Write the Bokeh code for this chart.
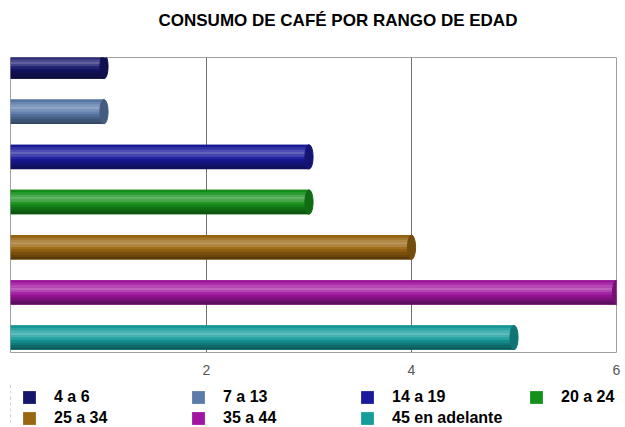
from bokeh.plotting import figure
from bokeh.layouts import column
from bokeh.models import (ColumnDataSource, Range1d, FixedTicker, Legend, LegendItem, Title)
from bokeh.transform import dodge
from bokeh.embed import file_html
from bokeh.resources import INLINE

# ---- data ----
categories = ["4 a 6", "7 a 13", "14 a 19", "20 a 24", "25 a 34", "35 a 44", "45 en adelante"]
values = [1, 1, 3, 3, 4, 6, 5]
tick_values = [2, 4, 6]
title_text = "CONSUMO DE CAFÉ POR RANGO DE EDAD"

# ---- style ----
colors = ["#15156b", "#5b7bab", "#1a1a9c", "#15901a", "#9a6612", "#a016a0", "#179c9c"]


def hex2rgb(h):
    h = h.lstrip("#")
    return tuple(int(h[i:i + 2], 16) for i in (0, 2, 4))


def shade(h, f):
    r, g, b = hex2rgb(h)
    if f >= 0:
        r, g, b = (c + (255 - c) * f for c in (r, g, b))
    else:
        r, g, b = (c * (1 + f) for c in (r, g, b))
    return "#%02x%02x%02x" % tuple(int(round(max(0, min(255, c)))) for c in (r, g, b))


n = len(categories)
ypos = [n - 1 - i for i in range(n)]  # first category on top

BAR_H = 0.54
source = ColumnDataSource(dict(cat=categories, val=values, y=ypos, color=colors,
                               cap=[shade(c, -0.25) for c in colors]))

W = 625
H_MAIN = 380
H_LEG = 47

p = figure(width=W, height=H_MAIN, output_backend="svg", toolbar_location=None,
           x_range=Range1d(0.088, 6.0), y_range=Range1d(-0.33, n - 1 + 0.2),
           min_border_left=10, min_border_right=9, min_border_top=55, min_border_bottom=28)

p.title.text = title_text
p.title.align = "left"
p.title.vertical_align = "top"
p.title.offset = 148
p.title.text_font = "Liberation Sans"
p.title.text_font_style = "bold"
p.title.text_font_size = "17px"
p.title.text_color = "#000000"
p.title.standoff = 20

# empty spacer panel between the title and the plot frame
p.add_layout(Title(text=" ", text_font_size="2px", standoff=12), "above")

p.background_fill_color = "white"
p.border_fill_color = "white"
p.outline_line_color = "#a0a0a0"
p.outline_line_width = 1

# base bar
p.hbar(y="y", right="val", left=0, height=BAR_H, source=source,
       fill_color="color", line_color=None)

# cylinder shading strips
profile = [-0.05, 0.10, 0.22, 0.32, 0.20, 0.05, -0.10, -0.22, -0.32, -0.42]
strip_h = BAR_H / len(profile)
for k, f in enumerate(profile):
    off = BAR_H / 2 - strip_h * (k + 0.5)
    src = ColumnDataSource(dict(val=values, y=ypos, c=[shade(c, f) for c in colors]))
    p.hbar(y=dodge("y", off), right="val", left=0, height=strip_h * 1.05, source=src,
           fill_color="c", line_color=None)

# rounded end caps
p.ellipse(x="val", y="y", width=0.08, height=BAR_H, source=source,
          fill_color="cap", line_color="cap", line_width=1)

# axes
p.yaxis.visible = False
p.ygrid.visible = False
p.xaxis.ticker = FixedTicker(ticks=tick_values)
p.xgrid.ticker = FixedTicker(ticks=tick_values)
p.xgrid.grid_line_color = "#707070"
p.xgrid.grid_line_width = 1
p.xgrid.level = "underlay"
p.xaxis.axis_line_color = None
p.xaxis.major_tick_line_color = None
p.xaxis.minor_tick_line_color = None
p.xaxis.major_label_text_font = "Liberation Sans"
p.xaxis.major_label_text_font_size = "14px"
p.xaxis.major_label_text_color = "#555555"
p.xaxis.major_label_standoff = 6

# legend strip: a second figure holding the legend (its bars lie outside its view)
q = figure(width=W, height=H_LEG, output_backend="svg", toolbar_location=None,
           x_range=Range1d(100, 101), y_range=Range1d(-1, n),
           x_axis_type=None, y_axis_type=None,
           min_border_left=0, min_border_right=0, min_border_top=0, min_border_bottom=0)
q.outline_line_color = None
q.grid.visible = False
q.background_fill_color = "white"
q.border_fill_color = "white"
leg_r = q.hbar(y="y", right="val", left=0, height=BAR_H, source=source,
               fill_color="color", line_color=None)

rows = [(list(range(0, 4)), 21), (list(range(4, n)), 0)]
for idxs, yloc in rows:
    items = [LegendItem(label=categories[i], renderers=[leg_r], index=i) for i in idxs]
    lg = Legend(items=items, orientation="horizontal", location=(11, yloc),
                glyph_width=16, glyph_height=16, label_standoff=17, label_width=136,
                spacing=0, padding=0, margin=0, border_line_color=None,
                background_fill_alpha=0,
                label_text_font="Liberation Sans", label_text_font_style="bold",
                label_text_font_size="16px", label_text_color="#000000",
                label_height=16)
    q.add_layout(lg)

layout = column(p, q, spacing=0)

with open("out.html", "w") as fh:
    fh.write(file_html(layout, INLINE))
